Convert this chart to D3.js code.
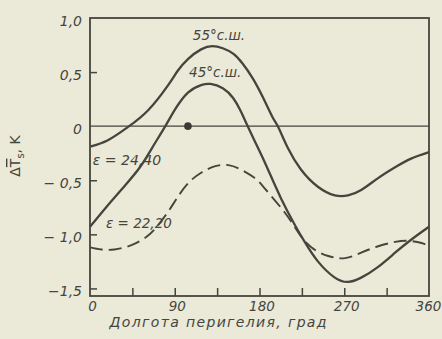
<!DOCTYPE html>
<html>
<head>
<meta charset="utf-8">
<script src="https://cdn.jsdelivr.net/npm/d3@7"></script>
<style>
  html, body { margin: 0; padding: 0; background: #ebe9d7; }
  svg { display: block; }
  text { font-family: "DejaVu Sans", sans-serif; font-style: italic; fill: #45453e; }
</style>
</head>
<body>
<svg id="chart" width="442" height="339"></svg>
<script>
// Perihelion longitude, degrees
const xTicks = [0, 45, 90, 135, 180, 225, 270, 315, 360];
const xTickLabels = ["0", "", "90", "", "180", "", "270", "", "360"];
const yTicks = [1.0, 0.5, 0, -0.5, -1.0, -1.5];
const yTickLabels = ["1,0", "0,5", "0", "− 0,5", "− 1,0", "−1,5"];

// 55° N, obliquity 24.40
const lat55 = [
  [0, -0.19], [19, -0.13], [40, -0.01], [62, 0.15], [83, 0.38], [93, 0.51],
  [104, 0.62], [118, 0.71], [130, 0.74], [141, 0.72], [152, 0.67], [162, 0.58],
  [173, 0.44], [184, 0.26], [194, 0.08], [200, -0.01], [210, -0.20], [224, -0.40],
  [242, -0.56], [260, -0.64], [274, -0.64], [288, -0.59], [306, -0.48],
  [324, -0.38], [341, -0.30], [360, -0.24]
];
// 45° N, obliquity 24.40
const lat45 = [
  [0, -0.93], [19, -0.73], [37, -0.55], [53, -0.38], [66, -0.20], [80, 0.0],
  [90, 0.15], [104, 0.31], [118, 0.38], [128, 0.39], [141, 0.35], [152, 0.26],
  [160, 0.14], [168, -0.01], [180, -0.23], [189, -0.40], [203, -0.67],
  [218, -0.92], [228, -1.07], [242, -1.25], [260, -1.40], [274, -1.44],
  [288, -1.40], [306, -1.30], [324, -1.17], [341, -1.05], [360, -0.93]
];
// obliquity 22.20
const eps22 = [
  [0, -1.12], [12, -1.14], [26, -1.14], [44, -1.10], [59, -1.03], [70, -0.94],
  [83, -0.79], [92, -0.67], [104, -0.53], [118, -0.43], [133, -0.37], [147, -0.36],
  [160, -0.40], [175, -0.48], [186, -0.58], [207, -0.80], [221, -0.98],
  [235, -1.12], [253, -1.20], [271, -1.22], [288, -1.17], [306, -1.11],
  [324, -1.07], [338, -1.06], [352, -1.08], [360, -1.11]
];
// present-day perihelion
const present = [[104, 0]];

const ink = "#45453e";
const svg = d3.select("#chart");

const x = d3.scaleLinear().domain([0, 360]).range([90, 429]);
const y = d3.scaleLinear().domain([-1.57, 1.0]).range([296, 18]);

const line = d3.line()
  .x(d => x(d[0]))
  .y(d => y(d[1]))
  .curve(d3.curveNatural);

// zero reference line
svg.append("line")
  .attr("x1", x(0)).attr("x2", x(360))
  .attr("y1", y(0)).attr("y2", y(0))
  .attr("stroke", ink).attr("stroke-width", 1.3);

// curves
svg.append("path").datum(lat55).attr("d", line)
  .attr("fill", "none").attr("stroke", ink).attr("stroke-width", 2.3);
svg.append("path").datum(lat45).attr("d", line)
  .attr("fill", "none").attr("stroke", ink).attr("stroke-width", 2.3);
svg.append("path").datum(eps22).attr("d", line)
  .attr("fill", "none").attr("stroke", ink).attr("stroke-width", 1.9)
  .attr("stroke-dasharray", "13,6");

svg.selectAll("circle.present").data(present).enter().append("circle")
  .attr("class", "present")
  .attr("cx", d => x(d[0])).attr("cy", d => y(d[1]))
  .attr("r", 3.8).attr("fill", "#3a3a34");

// frame
svg.append("rect")
  .attr("x", x(0)).attr("y", y(1.0))
  .attr("width", x(360) - x(0)).attr("height", y(-1.57) - y(1.0))
  .attr("fill", "none").attr("stroke", ink).attr("stroke-width", 1.8);

// x axis (ticks point inward)
const xAxis = d3.axisBottom(x).tickValues(xTicks).tickSize(-8).tickPadding(5)
  .tickFormat((d, i) => xTickLabels[i]);
const gx = svg.append("g").attr("transform", `translate(0,${y(-1.57)})`).call(xAxis);
gx.select(".domain").remove();
gx.selectAll(".tick line").attr("stroke", ink).attr("stroke-width", 1.5)
  .filter(d => d === 0 || d === 360).remove();
gx.selectAll(".tick text").attr("font-size", 13.5)
  .attr("dx", d => d === 360 ? -1 : 2)
  .attr("fill", ink).style("font-family", "DejaVu Sans, sans-serif").style("font-style", "italic");

// y axis (ticks point inward)
const yAxis = d3.axisLeft(y).tickValues(yTicks).tickSize(-7).tickPadding(8)
  .tickFormat((d, i) => yTickLabels[i]);
const gy = svg.append("g").attr("transform", `translate(${x(0)},0)`).call(yAxis);
gy.select(".domain").remove();
gy.selectAll(".tick line").attr("stroke", ink).attr("stroke-width", 1.5)
  .filter(d => d === 0 || d === 1.0).remove();
gy.selectAll(".tick text").attr("font-size", 14).attr("dy", "0.5em")
  .attr("fill", ink).style("font-family", "DejaVu Sans, sans-serif").style("font-style", "italic");

// axis titles
svg.append("text")
  .attr("x", 218).attr("y", 327)
  .attr("text-anchor", "middle").attr("font-size", 14)
  .attr("textLength", 217).attr("lengthAdjust", "spacing")
  .text("Долгота перигелия, град");

const yt = svg.append("text")
  .attr("transform", "translate(20,156) rotate(-90)")
  .attr("text-anchor", "middle").attr("font-size", 14)
  .style("font-style", "normal");
yt.append("tspan").text("Δ");
yt.append("tspan").attr("text-decoration", "overline").text("T");
yt.append("tspan").attr("font-size", 10).attr("dy", 4).text("s");
yt.append("tspan").attr("dy", -4).text(", K");

// curve annotations
svg.append("text").attr("x", x(137)).attr("y", y(0.80))
  .attr("text-anchor", "middle").attr("font-size", 13.5).text("55°с.ш.");
svg.append("text").attr("x", x(133)).attr("y", y(0.455))
  .attr("text-anchor", "middle").attr("font-size", 13.5).text("45°с.ш.");
svg.append("text").attr("x", x(3)).attr("y", y(-0.36))
  .attr("font-size", 14).text("ε = 24,40");
svg.append("text").attr("x", x(17)).attr("y", y(-0.94))
  .attr("font-size", 13.5).text("ε = 22,20");
</script>
</body>
</html>
